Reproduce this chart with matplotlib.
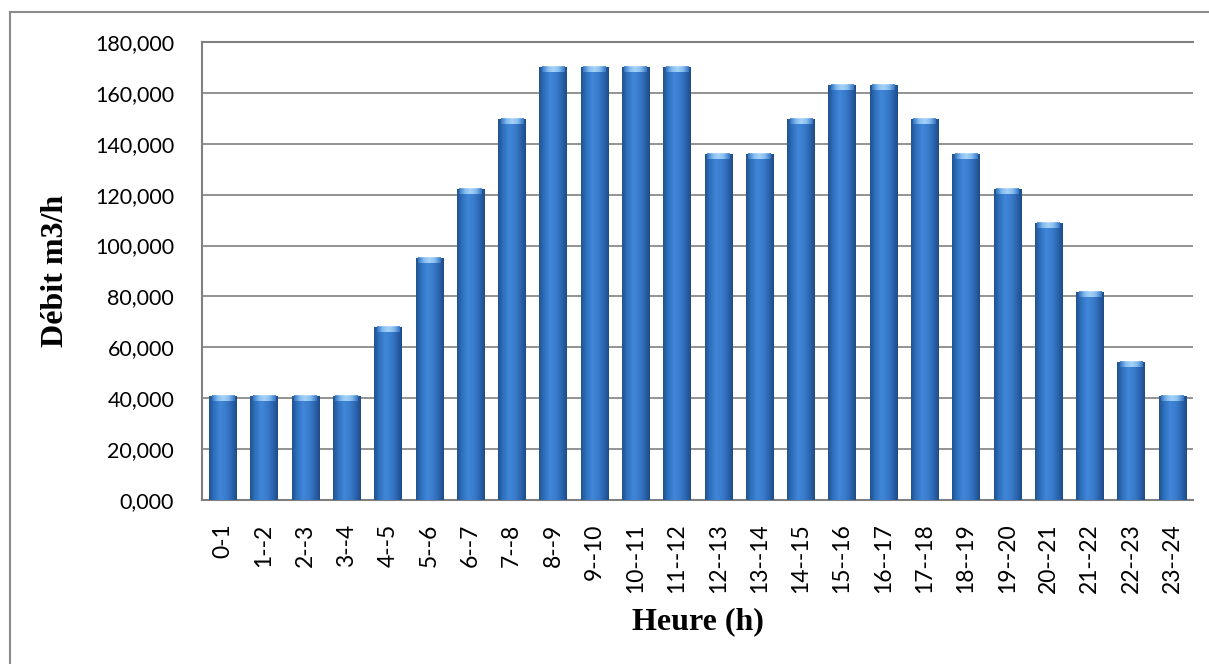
import matplotlib
matplotlib.use("Agg")
import matplotlib.pyplot as plt
from matplotlib.colors import LinearSegmentedColormap
from matplotlib.patches import Rectangle
from matplotlib.ticker import FuncFormatter
import numpy as np

# hourly flow (m3/h)
hours = ["0-1", "1--2", "2--3", "3--4", "4--5", "5--6", "6--7", "7--8",
         "8--9", "9--10", "10--11", "11--12", "12--13", "13--14", "14--15",
         "15--16", "16--17", "17--18", "18--19", "19--20", "20--21",
         "21--22", "22--23", "23--24"]
debit = [40.8, 40.8, 40.8, 40.8, 68.0, 95.2, 122.4, 149.6,
         170.0, 170.0, 170.0, 170.0, 136.0, 136.0, 149.6,
         163.2, 163.2, 149.6, 136.0, 122.4, 108.8,
         81.6, 54.4, 40.8]
y_ticks = [0, 20, 40, 60, 80, 100, 120, 140, 160, 180]

fig = plt.figure(figsize=(12.09, 6.64), dpi=100)
ax = fig.add_axes([0.1671, 0.247, 0.8197, 0.6898])

# outer chart frame
fig.patches.append(Rectangle((10 / 1209, -0.05), 1.2, 0.982 + 0.05,
                             transform=fig.transFigure, fill=False,
                             edgecolor="#8c8c8c", linewidth=1.5))

x = np.arange(len(hours))
width = 0.66
bars = ax.bar(x, debit, width=width, color="#2f6cb8", zorder=2)

# cylinder-style shading across each bar
cyl = LinearSegmentedColormap.from_list(
    "cyl", ["#21548f", "#3072c2", "#4186d8", "#3a7dcd", "#2d68b4", "#1f4c88"])
grad = np.linspace(0, 1, 64).reshape(1, -1)
cap_cmap = LinearSegmentedColormap.from_list(
    "cap", ["#3a78c4", "#8cc4f5", "#b5dcfc", "#8cc4f5", "#3a78c4"])
for rect, v in zip(bars, debit):
    x0 = rect.get_x()
    im = ax.imshow(grad, extent=[x0, x0 + width, 0, v], aspect="auto",
                   cmap=cyl, zorder=3)
    im.set_clip_path(rect)
    ax.imshow(grad, extent=[x0 + 0.06, x0 + width - 0.06, v - 2.0, v],
              aspect="auto", cmap=cap_cmap, zorder=4, alpha=0.9)

ax.set_xlim(-0.5, len(hours) - 0.5)
ax.set_ylim(0, 180)
ax.set_yticks(y_ticks)
ax.yaxis.set_major_formatter(FuncFormatter(lambda v, p: f"{v:.3f}".replace(".", ",")))
ax.set_xticks(x)
ax.set_xticklabels(hours, rotation=90)
ax.tick_params(axis="both", length=0, labelsize=15.5, labelcolor="black")
ax.tick_params(axis="x", labelsize=16.5, pad=17)
ax.tick_params(axis="y", pad=20)
for lbl in ax.get_xticklabels() + ax.get_yticklabels():
    lbl.set_fontfamily("Lato")

ax.grid(axis="y", color="#8a8a8a", linewidth=1.3, zorder=0)
ax.set_axisbelow(True)
for side in ["left", "bottom", "top"]:
    ax.spines[side].set_color("#808080")
    ax.spines[side].set_linewidth(1.5)
ax.spines["right"].set_visible(False)

ax.set_xlabel("Heure (h)", fontsize=23, fontweight="bold",
              fontfamily="Liberation Serif", labelpad=10)
ax.set_ylabel("Débit m3/h", fontsize=23, fontweight="bold",
              fontfamily="Liberation Serif", labelpad=18)

fig.savefig("out.png", dpi=100)
